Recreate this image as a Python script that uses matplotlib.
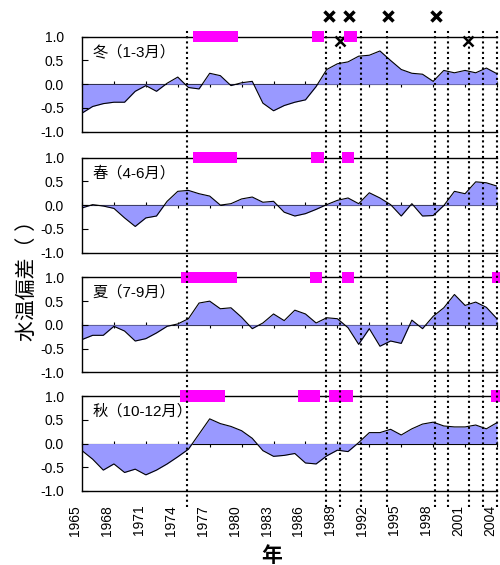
import matplotlib
matplotlib.use("Agg")
import matplotlib.pyplot as plt
import matplotlib.transforms as mtransforms
from matplotlib.lines import Line2D
import numpy as np

plt.rcParams['font.family'] = ['Liberation Sans', 'Noto Sans CJK JP']

years = np.arange(1965, 2005)

winter = [-0.61, -0.47, -0.41, -0.38, -0.38, -0.15, -0.03, -0.15, 0.02, 0.15,
          -0.07, -0.10, 0.23, 0.18, -0.03, 0.03, 0.06, -0.40, -0.56, -0.45,
          -0.38, -0.33, -0.05, 0.31, 0.43, 0.47, 0.59, 0.61, 0.70, 0.50,
          0.31, 0.23, 0.21, 0.06, 0.29, 0.24, 0.29, 0.24, 0.34, 0.22]
spring = [-0.06, 0.01, -0.02, -0.07, -0.27, -0.45, -0.27, -0.23, 0.08, 0.29,
          0.31, 0.24, 0.19, 0.00, 0.03, 0.13, 0.17, 0.06, 0.08, -0.15,
          -0.23, -0.18, -0.09, 0.01, 0.10, 0.15, 0.03, 0.26, 0.15, 0.01,
          -0.23, 0.03, -0.23, -0.22, -0.01, 0.29, 0.24, 0.49, 0.47, 0.40]
summer = [-0.31, -0.22, -0.22, -0.03, -0.13, -0.34, -0.29, -0.17, -0.03, 0.02,
          0.13, 0.46, 0.50, 0.34, 0.36, 0.16, -0.08, 0.04, 0.23, 0.09,
          0.31, 0.23, 0.04, 0.15, 0.13, -0.06, -0.41, -0.08, -0.45, -0.34,
          -0.39, 0.10, -0.08, 0.18, 0.36, 0.64, 0.41, 0.48, 0.37, 0.13]
autumn = [-0.15, -0.33, -0.56, -0.43, -0.61, -0.54, -0.66, -0.56, -0.43, -0.28,
          -0.12, 0.20, 0.52, 0.42, 0.36, 0.27, 0.11, -0.15, -0.27, -0.25,
          -0.21, -0.41, -0.43, -0.26, -0.14, -0.17, 0.02, 0.23, 0.23, 0.30,
          0.18, 0.31, 0.41, 0.45, 0.37, 0.35, 0.35, 0.39, 0.31, 0.44]

season_names = ['冬（1-3月）', '春（4-6月）', '夏（7-9月）', '秋（10-12月）']
series = [winter, spring, summer, autumn]

# magenta periods (start, end) per season
periods = [
    [(1975.45, 1979.7), (1986.6, 1987.7), (1989.6, 1990.8)],
    [(1975.45, 1979.6), (1986.5, 1987.7), (1989.4, 1990.6)],
    [(1974.3, 1979.55), (1986.4, 1987.6), (1989.4, 1990.6), (2003.55, 2004.3)],
    [(1974.2, 1978.4), (1985.3, 1987.4), (1988.2, 1990.5), (2003.4, 2004.3)],
]

shift_years = [1974.9, 1987.9, 1989.2, 1991.2, 1993.7, 1998.2, 1999.4,
               2001.4, 2002.7, 2004.0]
cross_upper = [1988.2, 1990.1, 1993.8, 1998.3]
cross_lower = [1989.25, 2001.25]

tick_years = np.arange(1965, 2005, 3)
yticks = [-1.0, -0.5, 0.0, 0.5, 1.0]
ytick_labels = ['-1.0', '-0.5', '0.0', '0.5', '1.0']

fig = plt.figure(figsize=(5, 5.65), dpi=100)
bottoms = [0.767, 0.553, 0.341, 0.131]
axes = []
for i, (name, vals) in enumerate(zip(season_names, series)):
    ax = fig.add_axes([0.164, bottoms[i], 0.83, 0.168])
    axes.append(ax)
    ax.fill_between(years, vals, 0, color='#9999FF', linewidth=0)
    ax.plot(years, vals, color='black', lw=0.8)
    ax.set_xlim(1965, 2004)
    ax.set_ylim(-1, 1)
    ax.set_yticks(yticks)
    ax.set_yticklabels(ytick_labels, fontsize=10)
    ax.tick_params(axis='y', direction='in', length=4, pad=13, width=0.8)
    ax.set_xticks(tick_years)
    if i == 3:
        ax.set_xticklabels([str(y) for y in tick_years], rotation=90,
                           fontsize=10, ha='right')
    else:
        ax.set_xticklabels([])
    ax.tick_params(axis='x', length=0, pad=10)
    ax.spines['right'].set_visible(False)
    for s in ['left', 'top', 'bottom']:
        ax.spines[s].set_linewidth(1.0)

    zero = ax.secondary_xaxis(0.5)
    zero.set_xticks(tick_years)
    zero.set_xticklabels([])
    zero.tick_params(axis='x', direction='inout', length=4, width=0.8)
    zero.spines['bottom'].set_linewidth(1.2)

    segs = [(a, b - a) for a, b in periods[i]]
    ax.broken_barh(segs, (0.88, 0.24), facecolors='#FF00FF', clip_on=False, zorder=5)

    ax.text(0.025, 0.84, name, transform=ax.transAxes, fontsize=11, va='center')

axes[0].plot(cross_upper, [1.44] * len(cross_upper), 'x', color='black',
             ms=7, mew=2.5, clip_on=False)
axes[0].plot(cross_lower, [0.92] * len(cross_lower), 'x', color='black',
             ms=7, mew=1.8, clip_on=False)

trans = mtransforms.blended_transform_factory(axes[3].transData, fig.transFigure)
for yr in shift_years:
    fig.add_artist(Line2D([yr, yr], [0.102, 0.950], transform=trans,
                          color='black', lw=1.5, linestyle=(0, (1, 1.5))))

fig.text(0.054, 0.513, '水温偏差（ ）', rotation=90, fontsize=15,
         ha='center', va='center')
fig.text(0.544, 0.015, '年', fontsize=15, fontweight='bold',
         ha='center', va='center')

fig.savefig('out.png', dpi=100)
